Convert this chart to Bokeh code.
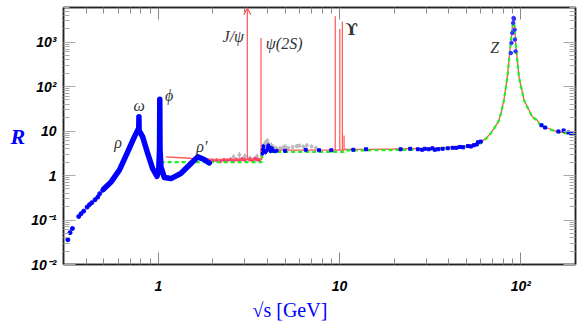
from bokeh.plotting import figure
from bokeh.models import (FixedTicker, LogAxis, Label, Arrow, OpenHead,
                          ColumnDataSource, Title)
from bokeh.embed import file_html
from bokeh.resources import INLINE

# ---------------- axis ticks / labels ----------------
x_major = [1, 10, 100]
x_minor = [0.3, 0.4, 0.5, 0.6, 0.7, 0.8, 0.9, 2, 3, 4, 5, 6, 7, 8, 9,
           20, 30, 40, 50, 60, 70, 80, 90, 200]
x_tick_labels = ["1", "10", "10²"]
y_major = [0.01, 0.1, 1, 10, 100, 1000]
y_minor = [m * d for d in [0.01, 0.1, 1, 10, 100, 1000] for m in range(2, 10)]
y_tick_labels = ["10⁻²", "10⁻¹", "1", "10", "10²", "10³"]

# ---------------- data ----------------
blue_lo_x = [0.317, 0.326, 0.336, 0.364, 0.375, 0.388, 0.405, 0.417, 0.430,
             0.448, 0.464, 0.475, 0.494]
blue_lo_r = [0.036, 0.052, 0.0645, 0.120, 0.139, 0.159, 0.195, 0.221, 0.246,
             0.287, 0.329, 0.392, 0.466]
blue_band_x = [0.50, 0.549, 0.61, 0.678, 0.738, 0.770, 0.780, 0.782, 0.784,
               0.79, 0.82, 0.874, 0.93, 0.984, 1.005, 1.016, 1.019, 1.022,
               1.034, 1.08, 1.175, 1.33, 1.48, 1.65, 1.79, 1.91]
blue_band_r = [0.50, 0.72, 1.32, 3.41, 7.4, 10.5, 11.0, 21.0, 10.5,
               9.8, 7.4, 3.14, 1.44, 0.96, 1.32, 4.0, 52.0, 4.0,
               1.56, 0.90, 0.855, 1.11, 1.71, 2.63, 2.30, 1.92]
blue_c_x = [3.75, 3.77, 3.80, 3.85, 3.90, 3.95, 4.00, 4.04, 4.08, 4.12, 4.16,
            4.20, 4.25, 4.30, 4.40, 4.50]
blue_c_r = [3.1, 3.9, 4.6, 3.6, 3.3, 3.6, 4.2, 4.8, 4.4, 3.8, 3.5,
            4.2, 4.0, 3.6, 3.5, 3.6]
blue_hi_x = [5.0, 6.5, 7.7, 9.0, 11.9, 14.0, 21.7, 24.5, 27.0, 28.5, 29.5,
             31.0, 32.5, 33.5, 35.0, 37.0, 39.5, 42.0, 44.0, 46.0, 48.0, 51.0,
             53.0, 55.0, 57.0, 58.0, 60.0, 130, 136, 161, 172, 183, 189, 200]
blue_hi_r = [3.6, 3.8, 3.7, 3.7, 3.8, 3.9, 3.9, 4.0, 3.9, 3.8, 4.0,
             3.9, 4.1, 3.8, 3.9, 4.0, 4.1, 4.2, 4.2, 4.4, 4.3, 4.6,
             4.5, 4.8, 5.0, 5.6, 5.8, 13.5, 12.0, 9.8, 10.3, 9.3, 9.0, 8.6]
blue_z_x = [88.0, 88.7, 89.7, 90.6, 91.1, 91.5, 92.3, 92.6, 93.4]
blue_z_r = [567, 955, 1600, 2700, 3500, 3300, 1900, 1140, 620]

gray_x = [2.6, 2.8, 3.0, 3.2, 3.5, 3.72, 3.8, 3.9, 4.0, 4.05, 4.1, 4.2, 4.3,
          4.4, 4.5, 4.7, 4.9, 5.0, 5.2, 5.5, 5.8, 6.0, 6.3, 6.6, 7.0, 7.4]
gray_r = [2.6, 2.9, 2.7, 2.5, 2.7, 3.5, 4.5, 5.5, 6.0, 5.0, 4.6, 4.8, 4.4,
          4.2, 4.0, 4.1, 4.3, 4.5, 4.2, 4.4, 4.6, 4.7, 4.5, 4.8, 4.5, 4.2]
gray_err = [0.4, 0.5, 0.4, 0.3, 0.4, 0.6, 0.8, 0.9, 0.9, 0.7, 0.6, 0.7, 0.6,
            0.5, 0.5, 0.5, 0.5, 0.5, 0.4, 0.4, 0.5, 0.5, 0.4, 0.5, 0.4, 0.3]

pink_x = [1.95, 2.0, 2.1, 2.2, 2.3, 2.4, 2.5, 2.6, 2.7, 2.8, 2.9, 3.0, 3.2,
          3.3, 3.4, 3.5, 3.6]
pink_r = [2.1, 2.15, 2.2, 2.1, 2.25, 2.2, 2.3, 2.15, 2.3, 2.2, 2.35, 2.25,
          2.3, 2.2, 2.4, 2.3, 2.25]

red_x = [1.10, 1.5, 2.0, 2.5, 3.0, 3.5, 3.72, 3.76, 3.9, 5.0, 7.0, 9.0, 10.5,
         10.7, 15, 20, 30, 40, 50, 57.5, 60, 65.3, 68, 74, 75.7, 77.5, 80.6,
         84.2, 87.8, 89.5, 91.1, 92.5, 93.5, 97.5, 104, 115.6, 123, 128, 134,
         159, 204]
red_r = [2.63, 2.45, 2.33, 2.30, 2.28, 2.28, 2.30, 3.70, 3.73, 3.73, 3.73,
         3.73, 3.73, 3.85, 3.88, 3.95, 4.10, 4.30, 4.70, 5.30, 5.50, 7.4, 8.9,
         14.9, 17.7, 25.0, 50, 168, 955, 2000, 3500, 2000, 955, 168, 50, 21.0,
         17.7, 13.6, 12.5, 9.6, 8.56]
green_x = [1.03, 3.72, 3.76, 10.5, 10.7, 15, 20, 30, 40, 50, 57.5, 60, 65.3,
           68, 74, 75.7, 77.5, 80.6, 84.2, 87.8, 89.5, 91.1, 92.5, 93.5, 97.5,
           104, 115.6, 123, 128, 134, 159, 204]
green_r = [2.0, 2.0, 3.40, 3.40, 3.67, 3.70, 3.75, 3.90, 4.10, 4.50, 5.10,
           5.30, 7.2, 8.7, 14.6, 17.4, 24.5, 49, 165, 950, 2000, 3500, 2000,
           950, 165, 49, 20.6, 17.4, 13.4, 12.3, 9.4, 8.4]

res_x = [3.097, 3.686, 9.46, 10.023, 10.355, 10.58]
res_top = [5900, 1240, 3800, 1960, 2900, 8]
res_base = [2.28, 2.28, 3.73, 3.73, 3.73, 3.73]

# ---------------- figure ----------------
p = figure(width=581, height=328, x_axis_type="log", y_axis_type="log",
           x_range=(0.3, 200), y_range=(0.01, 6000),
           output_backend="svg", toolbar_location=None,
           min_border_left=63, min_border_right=6, min_border_top=7,
           min_border_bottom=64)
p.xgrid.visible = False
p.ygrid.visible = False
p.outline_line_color = "#222222"
p.outline_line_width = 1.5

label_font = "Liberation Sans"
serif = "Liberation Serif"

def style_axis(ax, ticks, minor, tick_color, labels=None, standoff=0):
    ax.ticker = FixedTicker(ticks=ticks, minor_ticks=minor)
    ax.major_tick_in = 12
    ax.major_tick_out = 0
    ax.minor_tick_in = 6
    ax.minor_tick_out = 0
    ax.major_tick_line_color = tick_color
    ax.minor_tick_line_color = tick_color
    ax.axis_line_color = "#222222"
    ax.axis_line_width = 1.5
    ax.major_label_standoff = standoff
    if labels is None:
        ax.major_label_text_font_size = "1px"
        ax.major_label_text_alpha = 0
    else:
        ax.major_label_overrides = {t: l for t, l in zip(ticks, labels)}
        ax.major_label_text_font = label_font
        ax.major_label_text_font_style = "bold italic"
        ax.major_label_text_font_size = "14px"
        ax.major_label_text_color = "black"

style_axis(p.xaxis[0], x_major, x_minor, "#888888", x_tick_labels, 13)
style_axis(p.yaxis[0], y_major, y_minor, "#aaaaaa", y_tick_labels, 7)

# y axis title "R", horizontal
yax = p.yaxis[0]
yax.axis_label = "R"
yax.axis_label_orientation = "horizontal"
yax.axis_label_standoff = 3
yax.axis_label_text_font = serif
yax.axis_label_text_font_style = "bold italic"
yax.axis_label_text_font_size = "22px"
yax.axis_label_text_color = "blue"

top_ax = LogAxis()
style_axis(top_ax, x_major, x_minor, "#888888")
p.add_layout(top_ax, "above")
right_ax = LogAxis()
style_axis(right_ax, y_major, y_minor, "#aaaaaa")
p.add_layout(right_ax, "right")

# x axis title as a title below the axis
p.add_layout(Title(text="√s [GeV]", align="left", offset=189, standoff=0,
                   text_font=serif, text_font_style="normal",
                   text_font_size="20px", text_color="blue"), "below")

# ---------------- glyphs ----------------
gsrc = ColumnDataSource(dict(x=gray_x, r=gray_r,
                             lo=[r - e for r, e in zip(gray_r, gray_err)],
                             hi=[r + e for r, e in zip(gray_r, gray_err)]))
p.segment(x0="x", y0="lo", x1="x", y1="hi", source=gsrc,
          line_color="#bbbbbb", line_width=1.5)
p.scatter(x="x", y="r", source=gsrc, size=3, color="#bbbbbb")

p.scatter(pink_x, pink_r, size=3, color="#ff3377")

p.segment(x0=res_x[1:], y0=res_base[1:], x1=res_x[1:], y1=res_top[1:],
          line_color="#ff5555", line_width=1.2)
p.add_layout(Arrow(end=OpenHead(size=7, line_color="#ff5555", line_width=1.2),
                   x_start=res_x[0], y_start=res_base[0],
                   x_end=res_x[0], y_end=res_top[0],
                   line_color="#ff5555", line_width=1.2))

p.line(red_x, red_r, line_color="#ff5555", line_width=1.3)
p.line(green_x, green_r, line_color="#22ee22", line_width=2.2,
       line_dash="4 3")

p.scatter(blue_lo_x, blue_lo_r, size=4, color="blue")
p.line(blue_band_x, blue_band_r, line_color="blue", line_width=5.5,
       line_join="round", line_cap="round")
p.line(blue_c_x, blue_c_r, line_color="blue", line_width=2)
p.scatter(blue_c_x, blue_c_r, size=3, color="blue")
p.scatter(blue_hi_x, blue_hi_r, size=3, color="blue", marker="square")
p.scatter(blue_z_x, blue_z_r, size=3.5, color="#3333ff")

# ---------------- labels ----------------
res_labels = [("J/ψ", 2.97, 1324, "right", serif, "italic"),
              ("ψ(2S)", 3.92, 920, "left", serif, "italic"),
              ("ϒ", 10.8, 1900, "left", "DejaVu Serif", "bold"),
              ("Z", 71.6, 747, "center", serif, "italic"),
              ("ρ", 0.60, 5.65, "center", serif, "italic"),
              ("ω", 0.783, 36.7, "center", serif, "italic"),
              ("ϕ", 1.146, 61.7, "center", serif, "italic"),
              ("ρ′", 1.74, 4.58, "center", serif, "italic")]
for txt, lx, ly, al, fnt, style in res_labels:
    p.add_layout(Label(x=lx, y=ly, text=txt, text_align=al,
                       text_baseline="middle", text_font=fnt,
                       text_font_style=style, text_font_size="16px",
                       text_color="#333333"))

open("out.html", "w").write(file_html(p, INLINE))
